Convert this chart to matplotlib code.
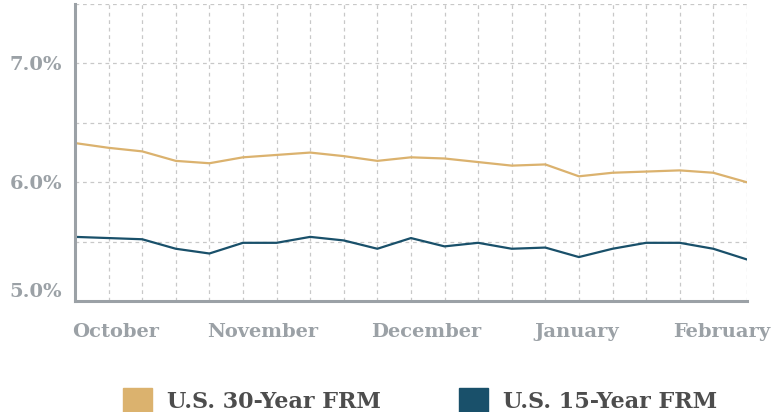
import numpy as np
import matplotlib.pyplot as plt
from matplotlib.patches import Patch

# weekly rates, 21 weeks
weeks = np.arange(21)
rate_30 = [6.33, 6.29, 6.26, 6.18, 6.16, 6.21, 6.23, 6.25, 6.22, 6.18, 6.21,
           6.20, 6.17, 6.14, 6.15, 6.05, 6.08, 6.09, 6.10, 6.08, 6.00]
rate_15 = [5.54, 5.53, 5.52, 5.44, 5.40, 5.49, 5.49, 5.54, 5.51, 5.44, 5.53,
           5.46, 5.49, 5.44, 5.45, 5.37, 5.44, 5.49, 5.49, 5.44, 5.35]
months = ["October", "November", "December", "January", "February"]
month_pos = [1.2, 5.6, 10.45, 14.95, 19.25]
y_ticks = [5.0, 5.5, 6.0, 6.5, 7.0, 7.5]
y_labels = ["5.0%", "", "6.0%", "", "7.0%", ""]

gold = "#DBB26E"
blue = "#19506A"
grey = "#9BA1A6"

plt.rcParams['font.family'] = ['DejaVu Serif']

fig = plt.figure(figsize=(7.78, 4.12), dpi=100)
ax = fig.add_axes([0.0964, 0.2694, 0.8636, 0.7206])

ax.plot(weeks, rate_30, color=gold, lw=1.6)
ax.plot(weeks, rate_15, color=blue, lw=1.6)

ax.set_xlim(0, 20)
ax.set_ylim(5.0, 7.5)
ax.set_xticks(weeks, minor=True)
ax.set_yticks(y_ticks, y_labels)
ax.set_xticks(month_pos, months)
ax.grid(axis="x", which="minor", color="#C8C8C8", ls=(0, (3, 3)), lw=0.9)
ax.grid(axis="y", which="major", color="#C8C8C8", ls=(0, (3, 3)), lw=0.9)
ax.tick_params(which="both", length=0)
ax.tick_params(axis="y", pad=9)
ax.tick_params(axis="x", pad=16)
for lab in ax.get_yticklabels() + ax.get_xticklabels():
    lab.set_color(grey)
    lab.set_fontweight("bold")
    lab.set_fontsize(14)
# bottom label sits above the axis line
ax.get_yticklabels()[0].set_va("bottom")

for s in ("top", "right"):
    ax.spines[s].set_visible(False)
for s in ("left", "bottom"):
    ax.spines[s].set_color(grey)
    ax.spines[s].set_linewidth(2.2)

handles = [Patch(color=gold, label="U.S. 30-Year FRM"),
           Patch(color=blue, label="U.S. 15-Year FRM")]
leg = fig.legend(handles=handles, loc="lower center", ncol=2, frameon=False,
                 bbox_to_anchor=(0.54, -0.05), handlelength=1.3, handleheight=1.3,
                 columnspacing=3.5, handletextpad=0.7,
                 prop={"weight": "bold", "size": 16})
for t in leg.get_texts():
    t.set_color("#4D4D4D")

fig.savefig("out.png", dpi=100)
